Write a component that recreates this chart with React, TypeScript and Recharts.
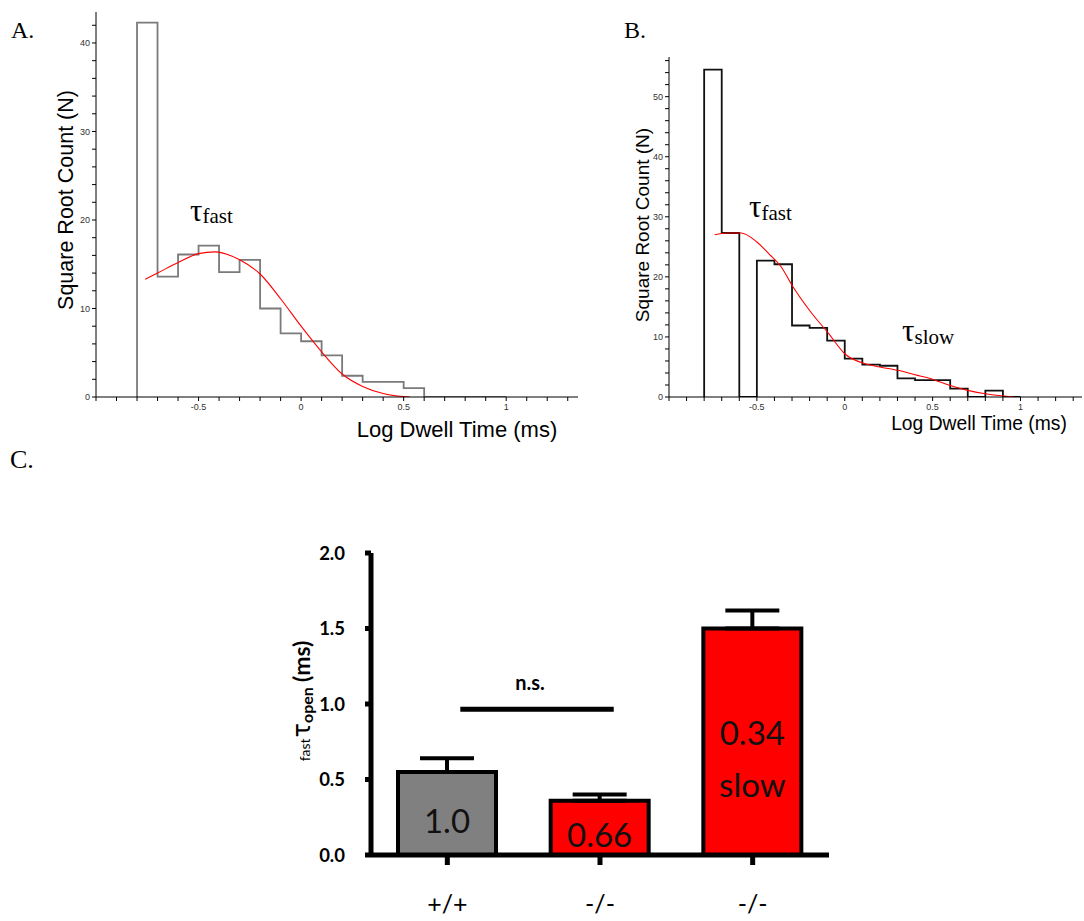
import React from "react";
import {
  LineChart,
  Line,
  XAxis,
  YAxis,
  BarChart,
  Bar,
  Cell,
  ErrorBar,
  LabelList,
  ReferenceLine,
} from "recharts";

// ---- Panel A: +/+ open dwell times (sqrt count histogram + fit) ----
const binEdges = [-0.8, -0.7, -0.6, -0.5, -0.4, -0.3, -0.2, -0.1, 0, 0.1, 0.2, 0.3, 0.4, 0.5, 0.6, 0.7, 0.8, 0.9, 1.0];
const sqrtCountsA = [42.3, 13.6, 16.1, 17.1, 14.1, 15.5, 10.0, 7.2, 6.3, 4.7, 2.4, 1.7, 1.7, 1.0, 0, 0, 0, 0];
const fitLogTimeA = [-0.76, -0.7, -0.6, -0.5, -0.42, -0.3, -0.2, -0.1, 0, 0.1, 0.2, 0.3, 0.4, 0.5, 0.53];
const fitCountA = [13.3, 14.0, 15.2, 16.2, 16.4, 15.5, 13.9, 11.1, 8.0, 5.1, 2.6, 1.2, 0.4, 0.05, 0];

// ---- Panel B: -/- open dwell times ----
const sqrtCountsB = [54.5, 27.3, 0, 22.7, 22.1, 11.9, 11.5, 9.4, 6.4, 5.4, 5.2, 3.1, 2.8, 2.8, 1.4, 0, 1.05, 0];
const fitLogTimeB = [-0.74, -0.67, -0.59, -0.5, -0.43, -0.36, -0.3, -0.2, -0.09, 0, 0.12, 0.2, 0.31, 0.4, 0.49, 0.6, 0.7, 0.8, 0.89, 0.96];
const fitCountB = [27.0, 27.3, 27.3, 25.8, 23.8, 21.6, 18.6, 14.4, 10.5, 7.2, 5.5, 5.0, 4.4, 3.7, 3.05, 1.9, 1.1, 0.55, 0.2, 0.05];

// shared axis ticks for the histograms
const logTicks = [-1, -0.9, -0.8, -0.7, -0.6, -0.5, -0.4, -0.3, -0.2, -0.1, 0, 0.1, 0.2, 0.3, 0.4, 0.5, 0.6, 0.7, 0.8, 0.9, 1, 1.1, 1.2, 1.3];
const logLabels = [-0.5, 0, 0.5, 1];
const countTicksA = [0, 2, 4, 6, 8, 10, 12, 14, 16, 18, 20, 22, 24, 26, 28, 30, 32, 34, 36, 38, 40, 42];
const countTicksB = [0, 2, 4, 6, 8, 10, 12, 14, 16, 18, 20, 22, 24, 26, 28, 30, 32, 34, 36, 38, 40, 42, 44, 46, 48, 50, 52, 54, 56];

// ---- Panel C: fast tau open ----
const groupIds = ["wt", "ko", "koSlow"];
const genotypes = ["+/+", "-/-", "-/-"];
const tauOpen = [0.55, 0.36, 1.5];
const tauErr = [0.09, 0.04, 0.12];
const barFills = ["#808080", "#ff0000", "#ff0000"];
const barNotes = [["1.0"], ["0.66"], ["0.34", "slow"]];
const tauTicks = [0, 0.5, 1, 1.5, 2];
const nsPair = ["wt", "ko"];
const nsLevel = 0.966;

// style tweaks for panel C
const noteRaise = [[22], [8], [110, 58]]; // note baselines, px above bar bottom
const nsShift = [0.085, 1.09]; // n.s. line ends, as fraction of the wt->ko distance

const SANS = "Liberation Sans, Arial, sans-serif";
const SERIF = "Liberation Serif, Times New Roman, serif";
const CAL = "Lato, Open Sans, sans-serif";

const outline = (edges: number[], counts: number[]) => [
  { x: edges[0], y: 0 },
  ...edges.map((x, i) => ({ x, y: counts[i] ?? 0 })),
];
const curve = (xs: number[], ys: number[]) => xs.map((x, i) => ({ x, y: ys[i] }));

const fmtLog = (v: number) => (logLabels.some((l) => Math.abs(l - v) < 1e-9) ? String(v) : "");
const fmtCount = (v: number) => (v % 10 === 0 ? String(v) : "");

interface HistProps {
  width: number;
  height: number;
  top: number;
  right: number;
  yAxisWidth: number;
  yMax: number;
  yTicks: number[];
  counts: number[];
  fitX: number[];
  fitY: number[];
  histColor: string;
}

function HistPanel({ width, height, top, right, yAxisWidth, yMax, yTicks, counts, fitX, fitY, histColor }: HistProps) {
  const tickStyle = { fontSize: 9, fill: "#333", fontFamily: SANS };
  return (
    <LineChart width={width} height={height} margin={{ top, right, left: 0, bottom: 0 }}>
      <XAxis
        type="number"
        dataKey="x"
        domain={[-1, 1.35]}
        ticks={logTicks}
        interval={0}
        allowDataOverflow
        tickFormatter={fmtLog}
        height={53}
        tickSize={4}
        tickMargin={3}
        tick={tickStyle}
        axisLine={{ stroke: "#000" }}
        tickLine={{ stroke: "#000" }}
      />
      <YAxis
        type="number"
        domain={[0, yMax]}
        ticks={yTicks}
        interval={0}
        allowDataOverflow
        tickFormatter={fmtCount}
        width={yAxisWidth}
        tickSize={4}
        tickMargin={2}
        tick={tickStyle}
        axisLine={{ stroke: "#000" }}
        tickLine={{ stroke: "#000" }}
      />
      <Line
        data={outline(binEdges, counts)}
        dataKey="y"
        type="stepAfter"
        stroke={histColor}
        strokeWidth={1.8}
        dot={false}
        activeDot={false}
        isAnimationActive={false}
      />
      <Line
        data={curve(fitX, fitY)}
        dataKey="y"
        type="monotone"
        stroke="#ff0000"
        strokeWidth={1.1}
        dot={false}
        activeDot={false}
        isAnimationActive={false}
      />
    </LineChart>
  );
}

const renderNote = (props: any) => {
  const { index } = props;
  const vb = props.viewBox ?? props;
  const cx = vb.x + vb.width / 2;
  const bottom = vb.y + vb.height;
  const lines = barNotes[index] ?? [];
  return (
    <g>
      {lines.map((t, k) => (
        <text key={k} x={cx} y={bottom - noteRaise[index][k]} textAnchor="middle" fontSize={33} fontFamily={CAL} fill="#111">
          {t}
        </text>
      ))}
    </g>
  );
};

// n.s. bracket: shifted slightly right of the bar centres, as in the original
const nsShape = (p: any) => {
  const span = p.x2 - p.x1;
  const x1 = p.x1 + nsShift[0] * span;
  const x2 = p.x1 + nsShift[1] * span;
  return (
    <g>
      <line x1={x1} y1={p.y1} x2={x2} y2={p.y2} stroke="#000" strokeWidth={5} />
      <text x={(x1 + x2) / 2 - 7} y={p.y1 - 19} textAnchor="middle" fontSize={20} fontWeight={700} fontFamily={CAL} fill="#000">
        n.s.
      </text>
    </g>
  );
};

function TauBars() {
  const data = groupIds.map((id, i) => ({ id, tau: tauOpen[i], err: [0, tauErr[i]] }));
  return (
    <BarChart width={600} height={401} data={data} margin={{ top: 33, right: 31, left: 0, bottom: 0 }}>
      <XAxis
        dataKey="id"
        height={66}
        tickFormatter={(_v: string, i: number) => genotypes[i]}
        tickSize={10}
        tickMargin={30}
        tick={{ fontSize: 25, fill: "#000", fontFamily: CAL }}
        axisLine={{ stroke: "#000", strokeWidth: 5 }}
        tickLine={{ stroke: "#000", strokeWidth: 5 }}
      />
      <YAxis
        type="number"
        domain={[0, 2]}
        ticks={tauTicks}
        interval={0}
        width={111}
        tickFormatter={(v: number) => v.toFixed(1)}
        tickSize={6}
        tickMargin={20}
        tick={{ fontSize: 18.5, fill: "#000", fontFamily: CAL, fontWeight: 700 }}
        axisLine={{ stroke: "#000", strokeWidth: 5 }}
        tickLine={{ stroke: "#000", strokeWidth: 5 }}
      />
      <Bar dataKey="tau" barSize={98} stroke="#000" strokeWidth={4} isAnimationActive={false}>
        {data.map((d, i) => (
          <Cell key={d.id} fill={barFills[i]} />
        ))}
        <ErrorBar dataKey="err" width={27} strokeWidth={4} stroke="#000" direction="y" />
        <LabelList dataKey="id" content={renderNote} />
      </Bar>
      <ReferenceLine
        segment={[
          { x: nsPair[0], y: nsLevel },
          { x: nsPair[1], y: nsLevel },
        ]}
        ifOverflow="visible"
        shape={nsShape}
      />
    </BarChart>
  );
}

export default function App() {
  return (
    <div style={{ position: "absolute", left: 0, top: 0, width: 1084, height: 921, background: "#fff", overflow: "hidden" }}>
      <div style={{ position: "absolute", left: 0, top: 0 }}>
        <HistPanel
          width={600}
          height={450}
          top={12}
          right={22}
          yAxisWidth={96}
          yMax={43.5}
          yTicks={countTicksA}
          counts={sqrtCountsA}
          fitX={fitLogTimeA}
          fitY={fitCountA}
          histColor="#7a7a7a"
        />
      </div>
      <div style={{ position: "absolute", left: 580, top: 0 }}>
        <HistPanel
          width={504}
          height={450}
          top={57}
          right={2}
          yAxisWidth={89}
          yMax={56.6}
          yTicks={countTicksB}
          counts={sqrtCountsB}
          fitX={fitLogTimeB}
          fitY={fitCountB}
          histColor="#111"
        />
      </div>
      <div style={{ position: "absolute", left: 260, top: 520 }}>
        <TauBars />
      </div>

      {/* titles and annotations */}
      <svg width={1084} height={921} style={{ position: "absolute", left: 0, top: 0, pointerEvents: "none" }}>
        <text x={11} y={38} fontFamily={SERIF} fontSize={24}>A.</text>
        <text x={624} y={38} fontFamily={SERIF} fontSize={24}>B.</text>
        <text x={10} y={468} fontFamily={SERIF} fontSize={26}>C.</text>

        <text x={190} y={221} fontFamily={SERIF}>
          <tspan fontSize={31}>τ</tspan>
          <tspan fontSize={21} dy={2}>fast</tspan>
        </text>
        <text x={749} y={217} fontFamily={SERIF}>
          <tspan fontSize={31}>τ</tspan>
          <tspan fontSize={21} dy={3}>fast</tspan>
        </text>
        <text x={902} y={341} fontFamily={SERIF}>
          <tspan fontSize={31}>τ</tspan>
          <tspan fontSize={21} dy={3}>slow</tspan>
        </text>

        <text transform="translate(73,200) rotate(-90)" textAnchor="middle" fontFamily={SANS} fontSize={21.5}>
          Square Root Count (N)
        </text>
        <text x={457} y={437} textAnchor="middle" fontFamily={SANS} fontSize={22}>
          Log Dwell Time (ms)
        </text>
        <text transform="translate(649,225) rotate(-90)" textAnchor="middle" fontFamily={SANS} fontSize={19}>
          Square Root Count (N)
        </text>
        <text x={979} y={430} textAnchor="middle" fontFamily={SANS} fontSize={19.3}>
          Log Dwell Time (ms)
        </text>

        <text transform="translate(310,701) rotate(-90)" textAnchor="middle" fontFamily={CAL} fill="#000">
          <tspan fontSize={14}>fast</tspan>
          <tspan fontSize={24} fontFamily="DejaVu Sans" dx={1}>τ</tspan>
          <tspan fontSize={16} fontWeight={700} dy={3}>open</tspan>
          <tspan fontSize={23} fontWeight={700} dx={5} dy={-3}>(ms)</tspan>
        </text>
      </svg>
    </div>
  );
}
